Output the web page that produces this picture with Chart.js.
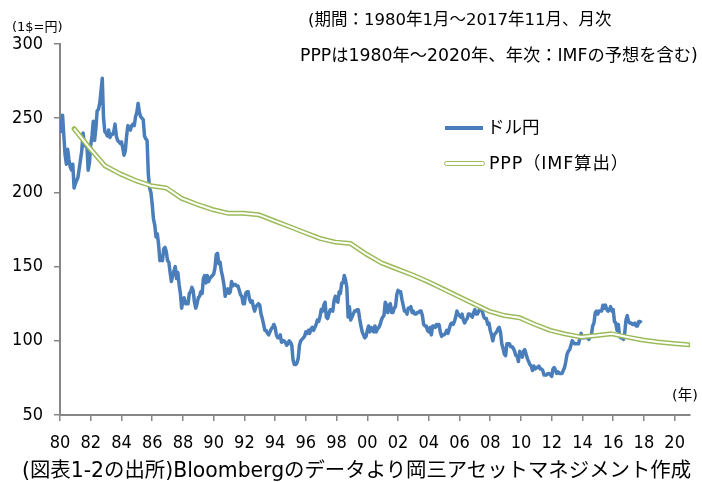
<!DOCTYPE html>
<html>
<head>
<meta charset="utf-8">
<script src="https://cdn.jsdelivr.net/npm/chart.js@4.4.0/dist/chart.umd.min.js"></script>
<style>
  html, body { margin: 0; padding: 0; background: #fff; }
  #wrap { position: relative; width: 702px; height: 482px; font-family: "DejaVu Sans", "Noto Sans CJK JP", sans-serif; color: #000; }
  #wrap canvas { position: absolute; left: 0; top: 0; }
  .note { position: absolute; white-space: nowrap; line-height: 1; }
  .key { position: absolute; }
</style>
</head>
<body>
<div id="wrap">
  <canvas id="fxChart" width="702" height="482"></canvas>
  <div class="note" style="left:12px;top:20px;font-size:13px">(1$=円)</div>
  <div class="note" style="left:308px;top:12px;font-size:16.5px">(期間：1980年1月～2017年11月、月次</div>
  <div class="note" style="left:300px;top:47px;font-size:17.3px">PPPは1980年～2020年、年次：IMFの予想を含む)</div>
  <div class="key" style="left:445px;top:126px;width:38px;height:4px;background:#4A7EBB"></div>
  <div class="note" style="left:487px;top:119px;font-size:17.5px">ドル円</div>
  <div class="key" style="left:444px;top:161px;width:41px;height:5px;box-sizing:border-box;border:1.4px solid #9BBB59;border-radius:2.5px;background:#fff"></div>
  <div class="note" style="left:489px;top:155px;font-size:17.5px;letter-spacing:0.8px">PPP（IMF算出）</div>
  <div class="note" style="left:672px;top:388px;font-size:14.5px">(年)</div>
  <div class="note" style="left:22px;top:460px;font-size:20.4px">(図表1-2の出所)Bloombergのデータより岡三アセットマネジメント作成</div>
</div>
<script>
// ドル円 月次 (1980年1月～2017年11月)
const usdjpy1980s = [
    240, 247, 252, 238, 225, 219, 229, 222, 217, 215, 219, 203,
    206, 208, 210, 216, 222, 228, 240, 233, 231, 232, 215, 220,
    232, 238, 248, 235, 243, 255, 256, 260, 268, 277, 250, 241,
    240, 238, 242, 237, 239, 239, 241, 246, 238, 235, 234, 233,
    234, 230, 225, 228, 238, 245, 244, 242, 245, 246, 245, 251,
    254, 260, 254, 251, 250, 249, 238, 236, 235, 212, 203, 200,
    192, 182, 178, 170, 172, 165, 154, 155, 154, 162, 163, 160,
    154, 153, 146, 140, 144, 147, 150, 142, 146, 138, 132, 122,
    127, 129, 125, 125, 125, 132, 133, 136, 134, 126, 122, 125,
    129, 130, 133, 132, 142, 144, 139, 144, 140, 142, 143, 144
];
const usdjpy1990s = [
    145, 149, 158, 159, 152, 153, 147, 143, 138, 130, 133, 135,
    132, 133, 140, 137, 138, 138, 137, 137, 134, 131, 130, 125,
    125, 132, 133, 133, 128, 126, 127, 123, 120, 123, 124, 125,
    124, 118, 115, 111, 107, 107, 105, 104, 106, 108, 109, 111,
    109, 104, 102, 102, 104, 99, 100, 100, 99, 97, 98, 100,
    99, 97, 87, 84, 84, 85, 88, 97, 100, 101, 102, 103,
    106, 105, 107, 105, 108, 109, 107, 109, 111, 114, 113, 116,
    121, 120, 124, 126, 116, 115, 118, 121, 121, 120, 127, 130,
    127, 126, 133, 132, 139, 139, 144, 141, 136, 116, 123, 114,
    116, 118, 120, 120, 121, 121, 115, 110, 106, 104, 102, 103
];
const usdjpy2000s = [
    107, 110, 106, 109, 108, 106, 110, 106, 108, 109, 111, 114,
    116, 117, 126, 124, 119, 124, 125, 119, 119, 122, 123, 131,
    134, 133, 133, 128, 124, 120, 120, 118, 122, 122, 123, 119,
    120, 118, 118, 119, 119, 120, 120, 117, 111, 110, 110, 107,
    106, 109, 104, 110, 110, 109, 111, 110, 111, 106, 103, 104,
    104, 105, 107, 105, 108, 111, 112, 111, 113, 116, 120, 118,
    117, 116, 118, 114, 112, 114, 115, 118, 118, 117, 116, 119,
    121, 118, 118, 120, 122, 123, 119, 116, 115, 115, 111, 112,
    107, 104, 100, 104, 105, 106, 108, 109, 106, 98, 95, 91,
    90, 98, 98, 98, 96, 96, 95, 93, 90, 90, 86, 93
];
const usdjpy2010s = [
    90, 89, 93, 94, 91, 88, 86, 84, 83, 80, 83, 81,
    82, 82, 83, 81, 81, 80, 77, 77, 77, 78, 78, 77,
    76, 81, 82, 80, 78, 79, 78, 78, 78, 80, 82, 86,
    91, 93, 94, 97, 100, 99, 98, 98, 98, 98, 102, 105,
    102, 102, 103, 102, 102, 101, 103, 104, 110, 112, 119, 120,
    118, 120, 120, 120, 124, 122, 124, 121, 120, 121, 123, 120,
    121, 113, 112, 107, 111, 103, 102, 103, 101, 105, 114, 117,
    113, 112, 112, 111, 111, 112, 110, 110, 113, 113, 112
];
// PPP 年次 (1980年～2020年、IMF)
const pppValues = [
    243, 230, 218, 212.5, 208, 204.5, 203, 196, 192, 188.5,
    186, 186, 185, 181, 177, 173, 169, 166.5, 165.5, 158.5,
    152.5, 148.5, 144.5, 140, 135, 130, 125, 120, 117, 115.5,
    111, 107, 104.5, 102.5, 103.5, 104.7, 102.5, 100.5, 99.2, 98.2,
    97.3
];
const startYear = 1980;
const xTickYears = [1980, 1982, 1984, 1986, 1988, 1990, 1992, 1994, 1996, 1998, 2000,
                    2002, 2004, 2006, 2008, 2010, 2012, 2014, 2016, 2018, 2020];
const yTicks = [50, 100, 150, 200, 250, 300];

const usdjpy = [].concat(usdjpy1980s, usdjpy1990s, usdjpy2000s, usdjpy2010s);
const usdPoints = usdjpy.map((v, i) => ({ x: startYear + i / 12, y: v }));
// 年次の値は各年の12月の位置に置く
const pppPoints = pppValues.map((v, i) => ({ x: startYear + i + 11 / 12, y: v }));

const axisGray = '#868686';
const tickFont = { family: "'DejaVu Sans Condensed', 'DejaVu Sans', sans-serif", size: 18 };
const ctx = document.getElementById('fxChart').getContext('2d');
new Chart(ctx, {
    type: 'line',
    data: {
        datasets: [{
            label: 'PPP（IMF算出）',
            data: pppPoints,
            borderColor: '#ffffff',
            borderWidth: 2,
            borderCapStyle: 'butt',
            order: 0
        }, {
            label: 'PPP outline',
            data: pppPoints,
            borderColor: '#9BBB59',
            borderWidth: 5,
            borderCapStyle: 'round',
            order: 1
        }, {
            label: 'ドル円',
            data: usdPoints,
            borderColor: '#4A7EBB',
            borderWidth: 3.5,
            order: 2
        }]
    },
    options: {
        responsive: false,
        animation: false,
        devicePixelRatio: 1,
        elements: {
            point: { radius: 0, hoverRadius: 0 },
            line: { tension: 0, borderJoinStyle: 'round', fill: false }
        },
        layout: { padding: { left: 0, top: 44, right: 12, bottom: 0 } },
        plugins: {
            legend: { display: false },
            tooltip: { enabled: false }
        },
        scales: {
            x: {
                type: 'linear',
                min: 1980,
                max: 2021,
                afterFit: (s) => { s.height = 67; },
                afterBuildTicks: (s) => { s.ticks = xTickYears.map(v => ({ value: v })); },
                grid: { drawOnChartArea: false, tickLength: 6, color: axisGray, lineWidth: 1.5 },
                border: { color: axisGray, width: 2 },
                ticks: {
                    color: '#000',
                    font: tickFont,
                    padding: 12,
                    maxRotation: 0,
                    autoSkip: false,
                    callback: (v) => String(v).slice(2)
                }
            },
            y: {
                min: 50,
                max: 300,
                afterFit: (s) => { s.width = 60; },
                afterBuildTicks: (s) => { s.ticks = yTicks.map(v => ({ value: v })); },
                grid: { drawOnChartArea: false, tickLength: 6, color: axisGray, lineWidth: 1.5 },
                border: { color: axisGray, width: 2 },
                ticks: {
                    color: '#000',
                    font: tickFont,
                    padding: 11
                }
            }
        }
    }
});
</script>
</body>
</html>
